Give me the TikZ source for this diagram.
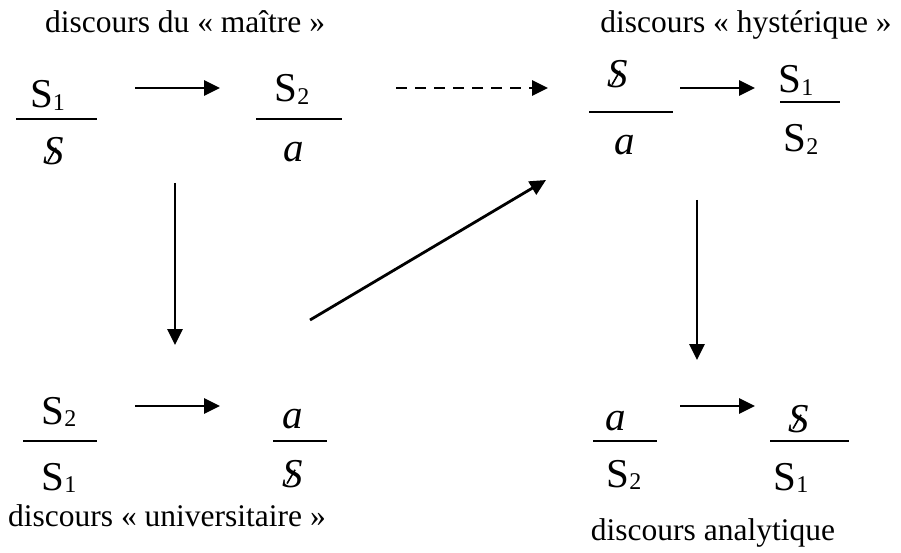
\documentclass[tikz,border=0pt]{standalone}
\usepackage{fontspec}
\usepackage{graphicx}
\setmainfont{Liberation Serif}
\usetikzlibrary{arrows.meta}
\newcommand\myS[1]{S\raisebox{-2.5pt}{\fontsize{24}{24}\selectfont #1}}
\newcommand\barS{\textit{S}\llap{\raisebox{3pt}{\rotatebox{60}{\rule{16pt}{1.6pt}}}\hspace{7.5pt}}}
\tikzset{
  lbl/.style={anchor=base,inner sep=0pt,font=\fontsize{31.5}{34}\selectfont},
  sym/.style={anchor=base,inner sep=0pt,font=\fontsize{41}{44}\selectfont},
  frac/.style={line width=2.8pt},
  arr/.style={line width=2.8pt,-{Triangle[length=16pt,width=15pt]}},
  darr/.style={arr,dash pattern=on 11pt off 8pt}
}
\begin{document}
\begin{tikzpicture}[x=1pt,y=-1pt]
\useasboundingbox (0,0) rectangle (901,553);
% labels
\node[lbl] (l1) at (185,33) {discours du « maître »};
\node[lbl] (l2) at (746,33) {discours « hystérique »};
\node[lbl] (l3) at (167,526) {discours « universitaire »};
\node[lbl] (l4) at (713,540) {discours analytique};
% top-left: master
\node[sym] (tln) at (47.5,108) {\myS{1}};
\node[sym] (tld) at (54,165) {\barS};
\draw[frac] (16,119) -- (97,119);
\node[sym] (tmn) at (292,102) {\myS{2}};
\node[sym] (tmd) at (294,162) {\textit{a}};
\draw[frac] (256,119) -- (342,119);
% top-right: hysteric
\node[sym] (trn) at (618,88) {\barS};
\node[sym] (trd) at (625,155) {\textit{a}};
\draw[frac] (589,112) -- (673,112);
\node[sym] (trrn) at (796,93) {\myS{1}};
\node[sym] (trrd) at (801,152) {\myS{2}};
\draw[frac] (780,102) -- (840,102);
% bottom-left: university
\node[sym] (bln) at (59,424) {\myS{2}};
\node[sym] (bld) at (59,490) {\myS{1}};
\draw[frac] (23,441) -- (97,441);
\node[sym] (bmn) at (293,428) {\textit{a}};
\node[sym] (bmd) at (293,487) {\barS};
\draw[frac] (273,441) -- (327,441);
% bottom-right: analyst
\node[sym] (brn) at (616,430) {\textit{a}};
\node[sym] (brd) at (624,487) {\myS{2}};
\draw[frac] (593,441) -- (657,441);
\node[sym] (brrn) at (799,432) {\barS};
\node[sym] (brrd) at (791,490) {\myS{1}};
\draw[frac] (770,441) -- (849,441);
% arrow end points
\coordinate (a1s) at (135,88);  \coordinate (a1e) at (220,88);
\coordinate (a2s) at (396,88);  \coordinate (a2e) at (548,88);
\coordinate (a3s) at (680,88);  \coordinate (a3e) at (755,88);
\coordinate (v1s) at (175,183); \coordinate (v1e) at (175,345);
\coordinate (dgs) at (310,320); \coordinate (dge) at (546,180);
\coordinate (v2s) at (697,200); \coordinate (v2e) at (697,360);
\coordinate (b1s) at (135,406); \coordinate (b1e) at (220,406);
\coordinate (b2s) at (680,406); \coordinate (b2e) at (755,406);
\draw[arr] (a1s) -- (a1e);
\draw[darr] (a2s) -- (a2e);
\draw[arr] (a3s) -- (a3e);
\draw[arr] (v1s) -- (v1e);
\draw[arr] (dgs) -- (dge);
\draw[arr] (v2s) -- (v2e);
\draw[arr] (b1s) -- (b1e);
\draw[arr] (b2s) -- (b2e);
\end{tikzpicture}
\end{document}
